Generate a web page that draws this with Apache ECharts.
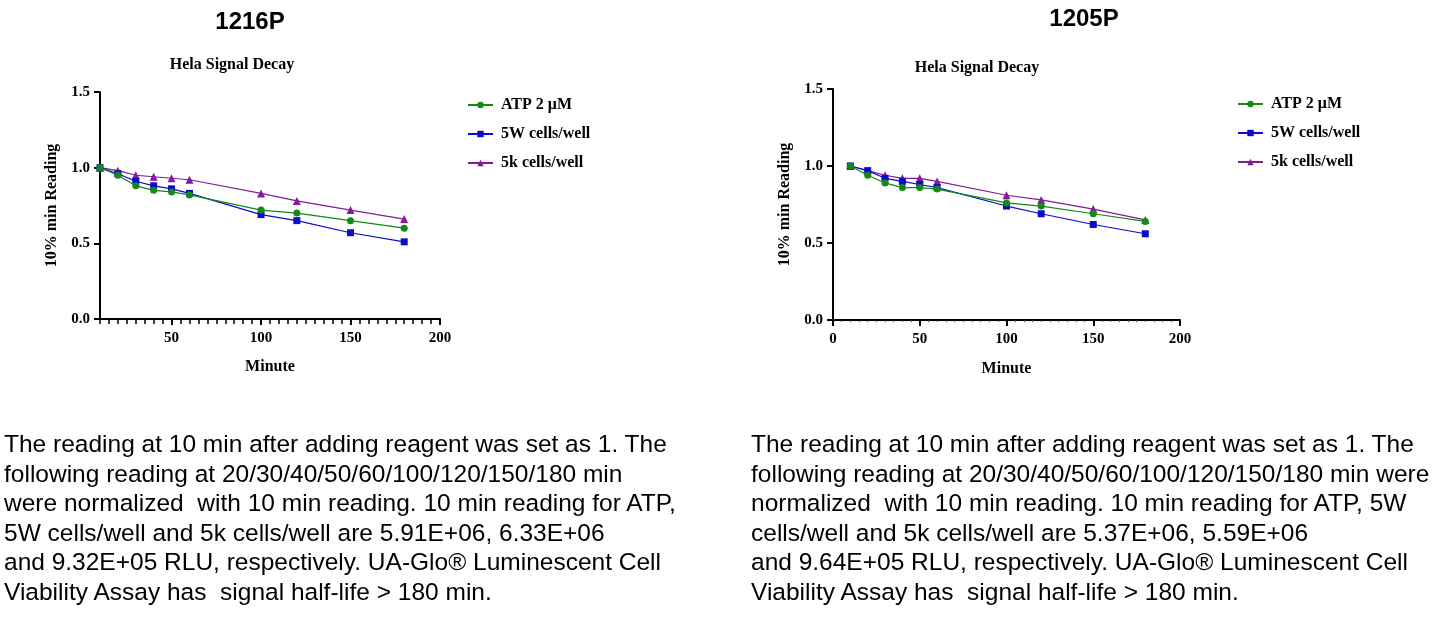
<!DOCTYPE html>
<html>
<head>
<meta charset="utf-8">
<title>Hela Signal Decay</title>
<script src="https://cdn.jsdelivr.net/npm/echarts@6/dist/echarts.min.js"></script>
<style>
body { margin: 0; background: #fff; }
#chart { position: absolute; left: 0; top: 0; width: 1445px; height: 619px; }
.note {
    position: absolute; top: 429px;
    font-family: "Liberation Sans", Arial, sans-serif;
    font-size: 24.5px; line-height: 29.6px; color: #000; white-space: nowrap;
}
</style>
</head>
<body>
<div id="chart"></div>
<div class="note" style="left:4px;">
The reading at 10 min after adding reagent was set as 1. The<br>
following reading at 20/30/40/50/60/100/120/150/180 min<br>
were normalized&nbsp; with 10 min reading. 10 min reading for ATP,<br>
5W cells/well and 5k cells/well are 5.91E+06, 6.33E+06<br>
and 9.32E+05 RLU, respectively. UA-Glo® Luminescent Cell<br>
Viability Assay has&nbsp; signal half-life &gt; 180 min.
</div>
<div class="note" style="left:751px;">
The reading at 10 min after adding reagent was set as 1. The<br>
following reading at 20/30/40/50/60/100/120/150/180 min were<br>
normalized&nbsp; with 10 min reading. 10 min reading for ATP, 5W<br>
cells/well and 5k cells/well are 5.37E+06, 5.59E+06<br>
and 9.64E+05 RLU, respectively. UA-Glo® Luminescent Cell<br>
Viability Assay has&nbsp; signal half-life &gt; 180 min.
</div>
<script>
// readings normalised to the 10 min value
var minutes = [10, 20, 30, 40, 50, 60, 100, 120, 150, 180];
var seriesNames = ['ATP 2 μM', '5W cells/well', '5k cells/well'];

var atp_1216 = [1.00, 0.95, 0.88, 0.85, 0.84, 0.82, 0.72, 0.70, 0.65, 0.60];
var w5_1216 = [1.00, 0.96, 0.91, 0.88, 0.86, 0.83, 0.69, 0.65, 0.57, 0.51];
var k5_1216 = [1.00, 0.98, 0.95, 0.94, 0.93, 0.92, 0.83, 0.78, 0.72, 0.66];

var atp_1205 = [1.00, 0.94, 0.89, 0.86, 0.86, 0.85, 0.76, 0.74, 0.69, 0.64];
var w5_1205 = [1.00, 0.97, 0.92, 0.90, 0.88, 0.86, 0.74, 0.69, 0.62, 0.56];
var k5_1205 = [1.00, 0.97, 0.94, 0.92, 0.92, 0.90, 0.81, 0.78, 0.72, 0.65];

var xMajorTicks = [50, 100, 150, 200];

var chart = echarts.init(document.getElementById('chart'));

var SERIF = '"Liberation Serif", "Times New Roman", serif';
var colors = ['#138a13', '#0b0bcc', '#861a9a'];
var symbols = ['circle', 'rect', 'triangle'];

function pairs(ys) {
    return minutes.map(function (m, i) { return [m, ys[i]]; });
}

function makeSeries(name, ys, idx, k) {
    return {
        name: name,
        type: 'line',
        xAxisIndex: idx,
        yAxisIndex: idx === 0 ? 0 : 1,
        data: pairs(ys),
        symbol: symbols[k],
        symbolSize: k === 2 ? 8 : 7,
        color: colors[k],
        lineStyle: { width: 1.2, color: colors[k] },
        itemStyle: { color: colors[k] },
        z: 3 - k
    };
}

var tickLabel = { fontFamily: SERIF, fontWeight: 'bold', fontSize: 15, color: '#000' };
var nameStyle = { fontFamily: SERIF, fontWeight: 'bold', fontSize: 16, color: '#000' };
var axisLine = { show: true, lineStyle: { color: '#000', width: 2 } };

function yAxis(grid) {
    return {
        type: 'value', gridIndex: grid, min: 0, max: 1.5, interval: 0.5,
        name: '10% min Reading', nameLocation: 'middle', nameGap: 40,
        nameTextStyle: nameStyle,
        axisLine: axisLine,
        axisTick: { show: true, length: 6, lineStyle: { color: '#000', width: 2 } },
        axisLabel: Object.assign({ margin: 10, formatter: function (v) { return v.toFixed(1); } }, tickLabel),
        splitLine: { show: false }
    };
}

function legend(left, top) {
    return {
        orient: 'vertical', left: left, top: top, itemWidth: 25, itemHeight: 8, itemGap: 13,
        data: seriesNames, textStyle: Object.assign({ padding: [0, 0, 0, 3] }, nameStyle)
    };
}

var option = {
    animation: false,
    backgroundColor: '#fff',
    graphic: [
        { type: 'text', x: 250, y: 22, style: { text: '1216P', align: 'center', verticalAlign: 'middle', font: 'bold 24px "Liberation Sans", Arial, sans-serif', fill: '#000' } },
        { type: 'text', x: 1084, y: 19, style: { text: '1205P', align: 'center', verticalAlign: 'middle', font: 'bold 24px "Liberation Sans", Arial, sans-serif', fill: '#000' } },
        { type: 'text', x: 232, y: 65, style: { text: 'Hela Signal Decay', align: 'center', verticalAlign: 'middle', font: 'bold 16px ' + SERIF, fill: '#000' } },
        { type: 'text', x: 977, y: 68, style: { text: 'Hela Signal Decay', align: 'center', verticalAlign: 'middle', font: 'bold 16px ' + SERIF, fill: '#000' } }
    ],
    legend: [legend(462, 92), legend(1232, 91)],
    grid: [
        { left: 100, top: 92, width: 340, height: 227 },
        { left: 833, top: 89, width: 347, height: 231 }
    ],
    xAxis: [
        {
            type: 'value', gridIndex: 0, min: 10, max: 200, position: 'bottom',
            name: 'Minute', nameLocation: 'middle', nameGap: 40, nameTextStyle: nameStyle,
            axisLine: axisLine,
            axisTick: { show: true, length: 6, customValues: xMajorTicks, lineStyle: { color: '#000', width: 2 } },
            axisLabel: Object.assign({ margin: 12, customValues: xMajorTicks }, tickLabel),
            splitLine: { show: false }
        },
        {
            // minor ticks for the 1216P chart, every 5 min
            type: 'value', gridIndex: 0, min: 10, max: 200, interval: 5, position: 'bottom',
            axisLine: { show: false },
            axisTick: { show: true, length: 5, lineStyle: { color: '#000', width: 1.5 } },
            axisLabel: { show: false },
            splitLine: { show: false }
        },
        {
            type: 'value', gridIndex: 1, min: 0, max: 200, interval: 50, position: 'bottom',
            name: 'Minute', nameLocation: 'middle', nameGap: 41, nameTextStyle: nameStyle,
            axisLine: axisLine,
            axisTick: { show: true, length: 6, lineStyle: { color: '#000', width: 2 } },
            minorTick: { show: true, splitNumber: 10, length: 2, lineStyle: { color: '#444', width: 1 } },
            axisLabel: Object.assign({ margin: 12 }, tickLabel),
            splitLine: { show: false }
        }
    ],
    yAxis: [yAxis(0), yAxis(1)],
    series: [
        makeSeries(seriesNames[0], atp_1216, 0, 0),
        makeSeries(seriesNames[1], w5_1216, 0, 1),
        makeSeries(seriesNames[2], k5_1216, 0, 2),
        makeSeries(seriesNames[0], atp_1205, 2, 0),
        makeSeries(seriesNames[1], w5_1205, 2, 1),
        makeSeries(seriesNames[2], k5_1205, 2, 2)
    ]
};

chart.setOption(option);
window.addEventListener('resize', function () { chart.resize(); });
</script>
</body>
</html>
